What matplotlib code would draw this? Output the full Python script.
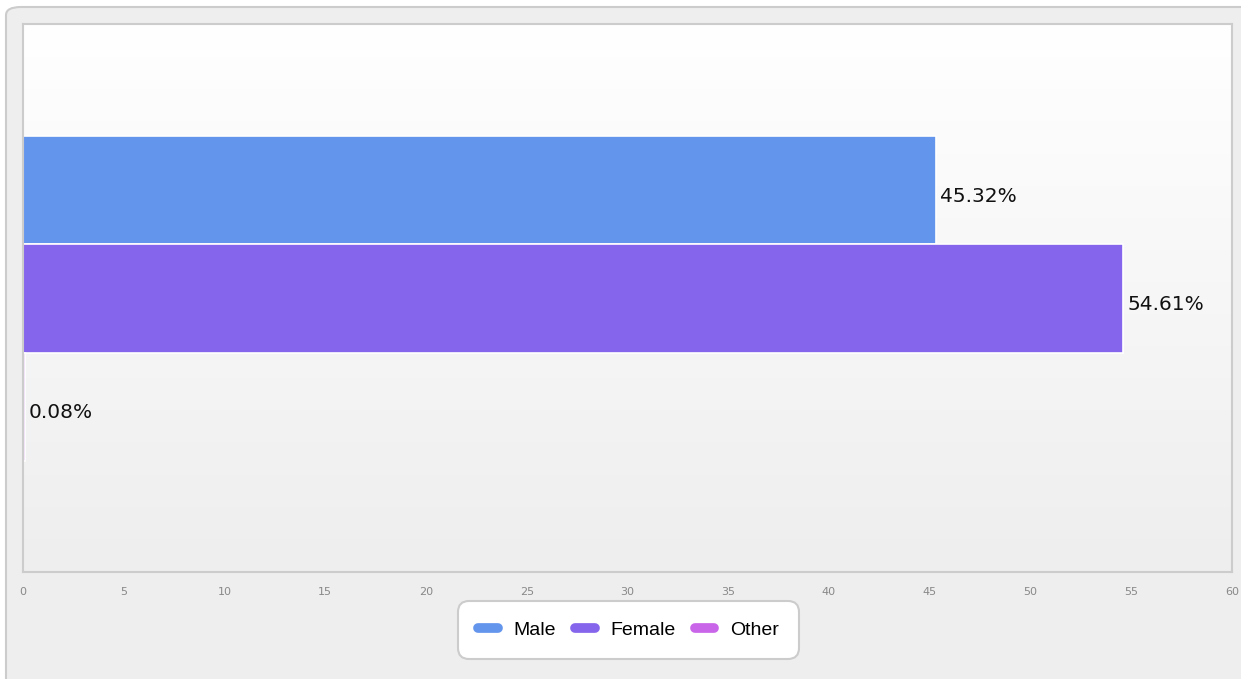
import numpy as np
import matplotlib.pyplot as plt
from matplotlib.patches import FancyBboxPatch
from matplotlib.lines import Line2D
from matplotlib.colors import LinearSegmentedColormap

categories = ['Male', 'Female', 'Other']
shares = [45.32, 54.61, 0.08]
colors = ['#6495ed', '#8465ec', '#c965e8']
xticks = list(range(0, 65, 5))

W, H = 1241, 679
fig = plt.figure(figsize=(W / 100, H / 100), dpi=100)
fig.patch.set_facecolor('white')

# outer rounded panel
panel = FancyBboxPatch((6 / W, -0.05), 1.05, (H - 7) / H + 0.05,
                       boxstyle='round,pad=0,rounding_size=0.012',
                       transform=fig.transFigure, facecolor='#eeeeee',
                       edgecolor='#cccccc', linewidth=1.5, zorder=-10)
fig.patches.append(panel)

ax = fig.add_axes([23 / W, (H - 572) / H, (1232 - 23) / W, (572 - 24) / H])
ax.set_facecolor('none')

# vertical gradient background
grad = np.linspace(1, 0, 256).reshape(-1, 1)
ax.imshow(grad, extent=[0, 1, 0, 1], transform=ax.transAxes, aspect='auto',
          cmap=LinearSegmentedColormap.from_list('g', ['#eeeeee', '#ffffff']),
          zorder=0)

y = np.arange(len(categories))
ax.barh(y, shares, height=1.0, color=colors, edgecolor='white', linewidth=1.2, zorder=2)
for yi, v in zip(y, shares):
    ax.annotate(f'{v:.2f}%', (v, yi), xytext=(3, -4), textcoords='offset points',
                va='center', ha='left', fontsize=14.5, family='DejaVu Sans',
                color='#111111', zorder=3)

ax.set_xlim(0, 60)
ax.set_ylim(3.53, -1.54)
ax.set_yticks([])
ax.set_xticks(xticks)
ax.set_xticklabels([str(t) for t in xticks])
ax.tick_params(axis='x', length=0, pad=11, labelsize=8, labelcolor='#888888')
for s in ax.spines.values():
    s.set_color('#cccccc')
    s.set_linewidth(1.5)

handles = [Line2D([0], [0], color=c, lw=7, solid_capstyle='round') for c in colors]
leg = fig.legend(handles, categories, loc='center', bbox_to_anchor=(628.5 / W, (H - 630) / H),
                 ncol=3, frameon=True, fancybox=True, handlelength=1.0, handletextpad=0.8,
                 columnspacing=1.0, borderpad=1.05,
                 prop={'family': 'Liberation Sans', 'size': 14})
frame = leg.get_frame()
frame.set_edgecolor('#cccccc')
frame.set_linewidth(1.5)
frame.set_facecolor('white')
frame.set_alpha(1)
frame.set_boxstyle('round,pad=0,rounding_size=0.6')

fig.savefig('out.png', dpi=100)
